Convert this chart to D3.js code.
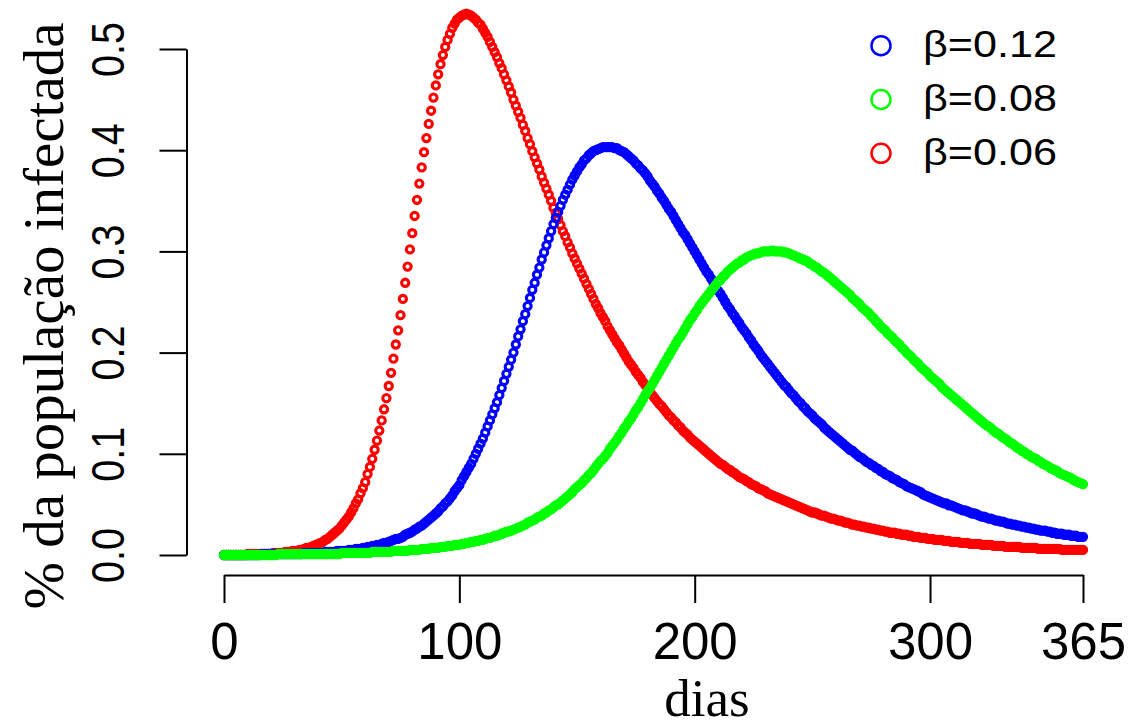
<!DOCTYPE html>
<html lang="pt">
<head>
    <meta charset="UTF-8">
    <title>% da população infectada</title>
    <style>
        body { margin: 0; background: #fff; }
        .tick line, .domain { stroke: #000; stroke-width: 2; }
        .ticklab, .legend text { font-family: "Liberation Sans", Arial, sans-serif; fill: #000; }
        .title { font-family: "Liberation Serif", "Times New Roman", serif; fill: #000; }
    </style>
</head>
<body>
    <svg id="chart" width="1141" height="728"></svg>
    <script src="https://d3js.org/d3.v7.min.js"></script>
    <script>
        // fraction infected, one value per day (0..365)
        var betaLow = [ // β=0.06 (red)
            0.000, 0.000, 0.000, 0.000, 0.000, 0.000, 0.000, 0.000, 0.000, 0.000,
            0.001, 0.001, 0.001, 0.001, 0.001, 0.001, 0.001, 0.001, 0.001, 0.001,
            0.001, 0.002, 0.002, 0.002, 0.002, 0.002, 0.003, 0.003, 0.003, 0.004,
            0.004, 0.004, 0.005, 0.005, 0.006, 0.007, 0.007, 0.008, 0.009, 0.010,
            0.011, 0.012, 0.013, 0.015, 0.016, 0.018, 0.020, 0.022, 0.024, 0.026,
            0.029, 0.032, 0.035, 0.038, 0.042, 0.046, 0.051, 0.055, 0.061, 0.066,
            0.072, 0.080, 0.087, 0.095, 0.104, 0.113, 0.123, 0.133, 0.144, 0.155,
            0.167, 0.180, 0.194, 0.208, 0.222, 0.237, 0.253, 0.269, 0.285, 0.302,
            0.318, 0.335, 0.351, 0.367, 0.383, 0.398, 0.412, 0.426, 0.439, 0.452,
            0.464, 0.475, 0.485, 0.494, 0.502, 0.509, 0.515, 0.521, 0.525, 0.529,
            0.531, 0.533, 0.534, 0.535, 0.534, 0.533, 0.531, 0.529, 0.526, 0.524,
            0.520, 0.516, 0.512, 0.507, 0.502, 0.497, 0.492, 0.486, 0.481, 0.475,
            0.469, 0.463, 0.457, 0.450, 0.444, 0.438, 0.432, 0.425, 0.419, 0.412,
            0.406, 0.399, 0.393, 0.387, 0.381, 0.374, 0.368, 0.362, 0.356, 0.350,
            0.343, 0.338, 0.332, 0.326, 0.320, 0.315, 0.309, 0.304, 0.298, 0.293,
            0.288, 0.283, 0.278, 0.273, 0.268, 0.263, 0.258, 0.253, 0.248, 0.244,
            0.239, 0.235, 0.231, 0.226, 0.222, 0.218, 0.214, 0.210, 0.207, 0.203,
            0.199, 0.195, 0.191, 0.188, 0.185, 0.181, 0.178, 0.175, 0.171, 0.168,
            0.165, 0.161, 0.158, 0.155, 0.152, 0.149, 0.147, 0.144, 0.141, 0.138,
            0.136, 0.133, 0.131, 0.128, 0.126, 0.123, 0.121, 0.119, 0.116, 0.114,
            0.112, 0.110, 0.108, 0.106, 0.104, 0.102, 0.100, 0.098, 0.096, 0.094,
            0.092, 0.090, 0.089, 0.087, 0.085, 0.084, 0.082, 0.081, 0.079, 0.077,
            0.076, 0.075, 0.073, 0.072, 0.070, 0.069, 0.068, 0.066, 0.065, 0.064,
            0.063, 0.061, 0.060, 0.059, 0.058, 0.057, 0.056, 0.055, 0.054, 0.053,
            0.052, 0.051, 0.050, 0.049, 0.048, 0.047, 0.046, 0.045, 0.044, 0.043,
            0.042, 0.042, 0.041, 0.040, 0.039, 0.039, 0.038, 0.037, 0.036, 0.036,
            0.035, 0.034, 0.034, 0.033, 0.032, 0.032, 0.031, 0.030, 0.030, 0.029,
            0.029, 0.028, 0.028, 0.027, 0.027, 0.026, 0.026, 0.025, 0.025, 0.024,
            0.024, 0.023, 0.023, 0.022, 0.022, 0.022, 0.021, 0.021, 0.020, 0.020,
            0.020, 0.019, 0.019, 0.018, 0.018, 0.018, 0.017, 0.017, 0.017, 0.016,
            0.016, 0.016, 0.015, 0.015, 0.015, 0.015, 0.014, 0.014, 0.014, 0.013,
            0.013, 0.013, 0.013, 0.012, 0.012, 0.012, 0.012, 0.011, 0.011, 0.011,
            0.011, 0.011, 0.010, 0.010, 0.010, 0.010, 0.010, 0.009, 0.009, 0.009,
            0.009, 0.009, 0.008, 0.008, 0.008, 0.008, 0.008, 0.008, 0.008, 0.007,
            0.007, 0.007, 0.007, 0.007, 0.007, 0.007, 0.006, 0.006, 0.006, 0.006,
            0.006, 0.006, 0.006, 0.006, 0.006, 0.006, 0.005, 0.005, 0.005, 0.005,
            0.005, 0.005, 0.005, 0.005, 0.005, 0.005
        ];
        var betaHigh = [ // β=0.12 (blue)
            0.000, 0.000, 0.000, 0.000, 0.000, 0.000, 0.000, 0.000, 0.000, 0.000,
            0.000, 0.000, 0.000, 0.000, 0.000, 0.000, 0.001, 0.001, 0.001, 0.001,
            0.001, 0.001, 0.001, 0.001, 0.001, 0.001, 0.001, 0.001, 0.001, 0.001,
            0.001, 0.001, 0.001, 0.001, 0.002, 0.002, 0.002, 0.002, 0.002, 0.002,
            0.002, 0.002, 0.002, 0.003, 0.003, 0.003, 0.003, 0.003, 0.004, 0.004,
            0.004, 0.004, 0.004, 0.005, 0.005, 0.005, 0.006, 0.006, 0.006, 0.007,
            0.007, 0.008, 0.008, 0.009, 0.009, 0.010, 0.010, 0.011, 0.012, 0.012,
            0.013, 0.014, 0.015, 0.016, 0.016, 0.017, 0.018, 0.020, 0.021, 0.022,
            0.023, 0.025, 0.026, 0.028, 0.029, 0.031, 0.033, 0.035, 0.037, 0.039,
            0.041, 0.043, 0.046, 0.048, 0.051, 0.053, 0.056, 0.059, 0.063, 0.066,
            0.069, 0.074, 0.078, 0.082, 0.086, 0.090, 0.095, 0.100, 0.105, 0.110,
            0.115, 0.121, 0.127, 0.133, 0.139, 0.145, 0.151, 0.158, 0.165, 0.172,
            0.179, 0.186, 0.193, 0.200, 0.208, 0.216, 0.223, 0.231, 0.238, 0.246,
            0.254, 0.262, 0.269, 0.277, 0.284, 0.292, 0.299, 0.306, 0.313, 0.320,
            0.327, 0.333, 0.339, 0.345, 0.351, 0.356, 0.361, 0.366, 0.371, 0.375,
            0.379, 0.383, 0.386, 0.390, 0.392, 0.395, 0.397, 0.399, 0.400, 0.401,
            0.402, 0.403, 0.403, 0.403, 0.403, 0.403, 0.402, 0.402, 0.400, 0.399,
            0.398, 0.396, 0.394, 0.392, 0.390, 0.387, 0.385, 0.382, 0.380, 0.377,
            0.374, 0.370, 0.367, 0.364, 0.360, 0.357, 0.353, 0.350, 0.346, 0.342,
            0.339, 0.335, 0.331, 0.327, 0.323, 0.319, 0.316, 0.312, 0.308, 0.304,
            0.300, 0.296, 0.292, 0.288, 0.284, 0.280, 0.277, 0.273, 0.269, 0.265,
            0.261, 0.258, 0.254, 0.250, 0.246, 0.243, 0.239, 0.236, 0.232, 0.229,
            0.225, 0.222, 0.219, 0.215, 0.212, 0.208, 0.205, 0.202, 0.198, 0.195,
            0.192, 0.189, 0.186, 0.183, 0.180, 0.177, 0.174, 0.171, 0.168, 0.166,
            0.163, 0.160, 0.158, 0.155, 0.152, 0.150, 0.147, 0.145, 0.142, 0.140,
            0.138, 0.135, 0.133, 0.131, 0.129, 0.126, 0.124, 0.122, 0.120, 0.118,
            0.116, 0.114, 0.112, 0.110, 0.108, 0.106, 0.104, 0.103, 0.101, 0.099,
            0.097, 0.096, 0.094, 0.092, 0.091, 0.089, 0.088, 0.086, 0.085, 0.083,
            0.082, 0.080, 0.079, 0.078, 0.076, 0.075, 0.074, 0.072, 0.071, 0.070,
            0.068, 0.067, 0.066, 0.065, 0.064, 0.063, 0.062, 0.060, 0.059, 0.058,
            0.057, 0.056, 0.055, 0.054, 0.053, 0.052, 0.051, 0.051, 0.049, 0.049,
            0.048, 0.047, 0.046, 0.045, 0.044, 0.044, 0.043, 0.042, 0.041, 0.041,
            0.040, 0.039, 0.038, 0.038, 0.037, 0.036, 0.036, 0.035, 0.034, 0.034,
            0.033, 0.033, 0.032, 0.031, 0.031, 0.030, 0.030, 0.029, 0.029, 0.028,
            0.028, 0.027, 0.027, 0.026, 0.026, 0.025, 0.025, 0.024, 0.024, 0.024,
            0.023, 0.023, 0.022, 0.022, 0.021, 0.021, 0.021, 0.020, 0.020, 0.020,
            0.019, 0.019, 0.019, 0.018, 0.018, 0.018
        ];
        var betaMid = [ // β=0.08 (green)
            0.000, 0.000, 0.000, 0.000, 0.000, 0.000, 0.000, 0.000, 0.000, 0.000,
            0.000, 0.000, 0.000, 0.000, 0.000, 0.000, 0.000, 0.000, 0.000, 0.000,
            0.000, 0.000, 0.000, 0.001, 0.001, 0.001, 0.001, 0.001, 0.001, 0.001,
            0.001, 0.001, 0.001, 0.001, 0.001, 0.001, 0.001, 0.001, 0.001, 0.001,
            0.001, 0.001, 0.001, 0.001, 0.001, 0.001, 0.001, 0.001, 0.001, 0.001,
            0.002, 0.002, 0.002, 0.002, 0.002, 0.002, 0.002, 0.002, 0.002, 0.002,
            0.002, 0.002, 0.002, 0.003, 0.003, 0.003, 0.003, 0.003, 0.003, 0.003,
            0.003, 0.003, 0.004, 0.004, 0.004, 0.004, 0.004, 0.004, 0.004, 0.005,
            0.005, 0.005, 0.005, 0.005, 0.006, 0.006, 0.006, 0.006, 0.007, 0.007,
            0.007, 0.007, 0.008, 0.008, 0.008, 0.009, 0.009, 0.009, 0.010, 0.010,
            0.010, 0.011, 0.011, 0.012, 0.012, 0.013, 0.013, 0.014, 0.014, 0.015,
            0.015, 0.016, 0.017, 0.017, 0.018, 0.019, 0.019, 0.020, 0.021, 0.022,
            0.023, 0.023, 0.024, 0.025, 0.026, 0.027, 0.028, 0.029, 0.030, 0.032,
            0.033, 0.034, 0.035, 0.037, 0.038, 0.039, 0.041, 0.042, 0.044, 0.045,
            0.047, 0.049, 0.050, 0.052, 0.054, 0.056, 0.058, 0.060, 0.062, 0.065,
            0.067, 0.069, 0.071, 0.074, 0.076, 0.079, 0.081, 0.084, 0.087, 0.090,
            0.093, 0.095, 0.098, 0.101, 0.105, 0.108, 0.111, 0.114, 0.118, 0.121,
            0.125, 0.128, 0.132, 0.135, 0.139, 0.143, 0.146, 0.150, 0.154, 0.158,
            0.162, 0.165, 0.169, 0.173, 0.177, 0.181, 0.185, 0.189, 0.193, 0.197,
            0.201, 0.205, 0.209, 0.213, 0.216, 0.220, 0.224, 0.228, 0.232, 0.235,
            0.239, 0.242, 0.246, 0.249, 0.252, 0.255, 0.258, 0.261, 0.264, 0.267,
            0.270, 0.272, 0.275, 0.277, 0.280, 0.282, 0.284, 0.286, 0.288, 0.289,
            0.291, 0.292, 0.294, 0.295, 0.296, 0.297, 0.298, 0.298, 0.299, 0.300,
            0.300, 0.300, 0.300, 0.301, 0.300, 0.300, 0.300, 0.300, 0.299, 0.299,
            0.298, 0.297, 0.296, 0.295, 0.294, 0.293, 0.292, 0.291, 0.290, 0.288,
            0.287, 0.285, 0.284, 0.282, 0.280, 0.279, 0.277, 0.275, 0.273, 0.271,
            0.269, 0.267, 0.265, 0.263, 0.261, 0.259, 0.257, 0.254, 0.252, 0.250,
            0.248, 0.245, 0.243, 0.241, 0.239, 0.236, 0.234, 0.231, 0.229, 0.226,
            0.224, 0.222, 0.219, 0.217, 0.215, 0.212, 0.210, 0.208, 0.205, 0.203,
            0.200, 0.198, 0.196, 0.193, 0.191, 0.189, 0.186, 0.184, 0.182, 0.180,
            0.177, 0.175, 0.173, 0.171, 0.169, 0.166, 0.164, 0.162, 0.160, 0.158,
            0.156, 0.154, 0.152, 0.150, 0.148, 0.146, 0.144, 0.142, 0.140, 0.138,
            0.136, 0.134, 0.132, 0.130, 0.128, 0.127, 0.125, 0.123, 0.121, 0.120,
            0.118, 0.116, 0.115, 0.113, 0.111, 0.110, 0.108, 0.106, 0.105, 0.103,
            0.102, 0.100, 0.099, 0.097, 0.096, 0.095, 0.093, 0.092, 0.090, 0.089,
            0.088, 0.086, 0.085, 0.084, 0.083, 0.081, 0.080, 0.079, 0.078, 0.077,
            0.076, 0.074, 0.073, 0.072, 0.071, 0.070
        ];
        var xTicks = [0, 100, 200, 300, 365];
        var yTicks = [0, 0.1, 0.2, 0.3, 0.4, 0.5];
        var legendLabels = ["β=0.12", "β=0.08", "β=0.06"];

        var svg = d3.select("#chart");
        svg.append("rect").attr("width", 1141).attr("height", 728).attr("fill", "#fff");

        var x = d3.scaleLinear().domain([0, 365]).range([224, 1083]);
        var y = d3.scaleLinear().domain([0, 0.5]).range([555, 49]);

        // y axis (R style, detached, rotated labels)
        var yAxis = svg.append("g")
            .attr("transform", "translate(186.5,0)")
            .call(d3.axisLeft(y).tickValues(yTicks).tickSize(27).tickSizeOuter(0));
        yAxis.selectAll(".tick text").remove();
        yAxis.selectAll(".tick").append("text")
            .attr("class", "ticklab")
            .attr("transform", "rotate(-90)")
            .attr("x", 0)
            .attr("y", -63)
            .attr("text-anchor", "middle")
            .attr("font-size", 47)
            .attr("textLength", 55)
            .attr("lengthAdjust", "spacingAndGlyphs")
            .text(d => d3.format(".1f")(d));

        // x axis
        var xAxis = svg.append("g")
            .attr("transform", "translate(0,575)")
            .call(d3.axisBottom(x).tickValues(xTicks).tickSize(28).tickSizeOuter(0));
        svg.selectAll("g").attr("font-family", null).attr("font-size", null);
        xAxis.selectAll(".tick text")
            .attr("class", "ticklab")
            .attr("y", 84)
            .attr("dy", 0)
            .attr("font-size", 51);
        svg.selectAll(".domain, .tick line").attr("stroke", "#000").attr("stroke-width", 2);

        // series, drawn in this order: red, blue, green
        var series = [
            { values: betaLow, color: "#ff0000" },
            { values: betaHigh, color: "#0000ff" },
            { values: betaMid, color: "#00ff00" }
        ];
        series.forEach(function(s) {
            svg.append("g")
                .selectAll("circle")
                .data(s.values)
                .enter()
                .append("circle")
                .attr("cx", (d, i) => x(i))
                .attr("cy", d => y(d))
                .attr("r", 3.6)
                .attr("fill", "none")
                .attr("stroke", s.color)
                .attr("stroke-width", 3.1);
        });

        // axis titles
        svg.append("text")
            .attr("class", "title")
            .attr("transform", "translate(63,316) rotate(-90)")
            .attr("text-anchor", "middle")
            .attr("font-size", 57)
            .text("% da população infectada");
        svg.append("text")
            .attr("class", "title")
            .attr("x", 707)
            .attr("y", 716)
            .attr("text-anchor", "middle")
            .attr("font-size", 53)
            .text("dias");

        // legend
        var legendColors = ["#0000ff", "#00ff00", "#ff0000"];
        var legend = svg.append("g").attr("class", "legend");
        legendLabels.forEach(function(lab, i) {
            var row = legend.append("g").attr("transform", "translate(0," + (45.7 + i * 53.8) + ")");
            row.append("circle")
                .attr("cx", 881)
                .attr("cy", 0)
                .attr("r", 9.5)
                .attr("fill", "none")
                .attr("stroke", legendColors[i])
                .attr("stroke-width", 2.5);
            row.append("text")
                .attr("x", 923)
                .attr("y", 11.5)
                .attr("font-size", 36)
                .attr("textLength", 134)
                .attr("lengthAdjust", "spacingAndGlyphs")
                .text(lab);
        });
    </script>
</body>
</html>
